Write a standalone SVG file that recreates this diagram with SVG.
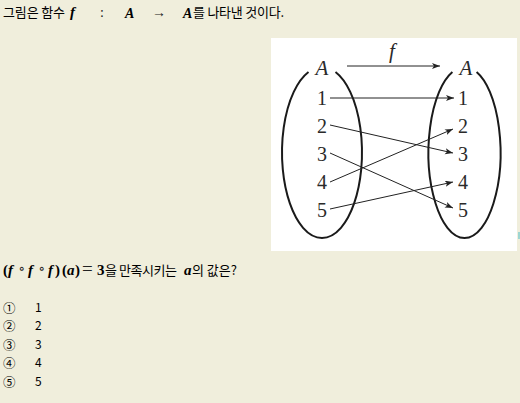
<svg xmlns="http://www.w3.org/2000/svg" width="520" height="403" viewBox="0 0 520 403">
<style>
.ko{font-family:"Noto Sans CJK KR","Noto Sans",sans-serif;font-size:13px;fill:#000}
.mb{font-family:"Liberation Serif","DejaVu Serif",serif;font-weight:bold;font-style:italic;fill:#000}
.mn{font-family:"Liberation Serif","DejaVu Serif",serif;fill:#222}
.dg{font-family:"Liberation Serif","DejaVu Serif",serif;font-size:20px;fill:#2a2a2a;text-anchor:middle}
.dgi{font-family:"Liberation Serif","DejaVu Serif",serif;font-size:21px;font-style:italic;fill:#2a2a2a;text-anchor:middle}
.ell{fill:none;stroke:#1a1a1a;stroke-width:2}
.arr{fill:none;stroke:#222;stroke-width:1;marker-end:url(#ah)}
.opt{font-family:"Noto Sans CJK KR","Liberation Sans",sans-serif;font-size:12px;fill:#000}
.cir{font-family:"Noto Sans CJK KR",sans-serif;font-size:12.5px;fill:#000}
</style>
<defs>
<marker id="ah" markerUnits="userSpaceOnUse" markerWidth="10" markerHeight="8" refX="8" refY="3" orient="auto">
<path d="M0,0 L8,3 L0,6 L2,3 Z" fill="#222"/>
</marker>
</defs>
<rect x="0" y="0" width="520" height="403" fill="#F0EEDC"/>
<g id="header">
<text class="ko" x="3" y="17" textLength="62" lengthAdjust="spacing">그림은 함수</text>
<text class="mb" x="70" y="17" font-size="15">f</text>
<text class="mn" x="100" y="17" font-size="14">:</text>
<text class="mb" x="125" y="18" font-size="14">A</text>
<text class="mn" x="152" y="17" font-size="14">→</text>
<text class="mb" x="183" y="18" font-size="14">A</text>
<text class="ko" x="193" y="17" textLength="91" lengthAdjust="spacing">를 나타낸 것이다.</text>
</g>
<rect x="271" y="38" width="246" height="213" fill="#FFFFFF"/>
<rect x="518" y="232" width="2" height="7" fill="#9ED6D2"/>
<g id="setA-left">
<path class="ell" d="M308.5,72 A40,85.5 0 1 0 335.5,72"/>
<text class="dgi" x="322" y="75">A</text>
<text class="dg" x="322" y="105">1</text>
<text class="dg" x="322" y="133">2</text>
<text class="dg" x="322" y="161">3</text>
<text class="dg" x="322" y="189">4</text>
<text class="dg" x="322" y="217">5</text>
</g>
<g id="setA-right">
<path class="ell" d="M452.4,72 A36,85.5 0 1 0 476.6,72"/>
<text class="dgi" x="466" y="75">A</text>
<text class="dg" x="463" y="105">1</text>
<text class="dg" x="463" y="133">2</text>
<text class="dg" x="463" y="161">3</text>
<text class="dg" x="463" y="189">4</text>
<text class="dg" x="463" y="217">5</text>
</g>
<g id="connectors">
<line class="arr" x1="347" y1="66" x2="440" y2="66"/>
<text class="dgi" x="392" y="58" font-size="19">f</text>
<line class="arr" x1="330" y1="98" x2="454" y2="98"/>
<line class="arr" x1="330" y1="125" x2="453" y2="153"/>
<line class="arr" x1="330" y1="153" x2="453" y2="208"/>
<line class="arr" x1="330" y1="182" x2="453" y2="129"/>
<line class="arr" x1="330" y1="209" x2="453" y2="182"/>
</g>
<g id="question">
<text class="mb" y="275" font-size="15"><tspan x="3" font-style="normal">(</tspan><tspan x="8">f</tspan><tspan x="18.5" y="273" font-size="14" font-weight="normal" font-style="normal" fill="#222">∘</tspan><tspan x="28" y="275">f</tspan><tspan x="38.5" y="273" font-size="14" font-weight="normal" font-style="normal" fill="#222">∘</tspan><tspan x="48" y="275">f</tspan><tspan x="55" font-style="normal">)</tspan><tspan x="62" font-style="normal">(</tspan><tspan x="67">a</tspan><tspan x="75" font-style="normal">)</tspan><tspan x="82" font-size="19" font-weight="normal" font-style="normal" fill="#222">=</tspan><tspan x="97" font-style="normal">3</tspan></text>
<text class="ko" x="105" y="275" textLength="72" lengthAdjust="spacing">을 만족시키는</text>
<text class="mb" x="184" y="275" font-size="15">a</text>
<text class="ko" x="192" y="275" font-size="12">의 값은?</text>
</g>
<g id="options">
<text class="cir" x="3" y="313">①</text><text class="opt" x="35" y="312">1</text>
<text class="cir" x="3" y="331">②</text><text class="opt" x="35" y="330">2</text>
<text class="cir" x="3" y="350">③</text><text class="opt" x="35" y="349">3</text>
<text class="cir" x="3" y="368">④</text><text class="opt" x="35" y="367">4</text>
<text class="cir" x="3" y="387">⑤</text><text class="opt" x="35" y="386">5</text>
</g>
</svg>
